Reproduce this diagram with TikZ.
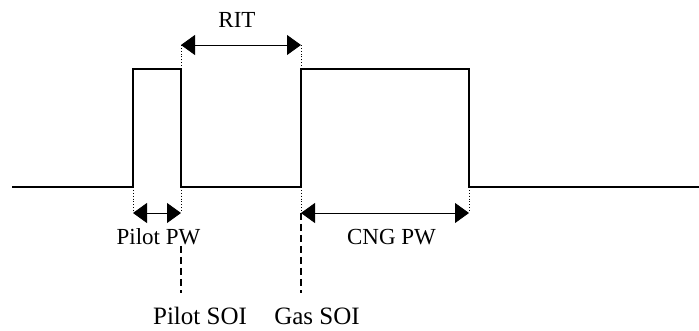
\documentclass[tikz,border=0pt]{standalone}
\usepackage{fontspec}
\setmainfont{Liberation Serif}
\usetikzlibrary{arrows.meta}
\begin{document}
\begin{tikzpicture}[x=1pt,y=-1pt,
  signal/.style={line width=1.6pt},
  dim/.style={line width=0.9pt,{Triangle[length=14pt,width=20pt]}-{Triangle[length=14pt,width=20pt]}},
  ext/.style={line width=0.9pt,dotted},
  marker/.style={line width=1.3pt,dash pattern=on 7pt off 4pt},
  lbl/.style={anchor=base,inner sep=0pt,font=\fontsize{23}{27}\selectfont},
  biglbl/.style={anchor=base,inner sep=0pt,font=\fontsize{25}{29}\selectfont}]
\useasboundingbox (0,0) rectangle (699,331);
% waveform corners
\coordinate (s0) at (12,187);
\coordinate (p1) at (133,187);
\coordinate (p1t) at (133,69);
\coordinate (p2t) at (181,69);
\coordinate (p2) at (181,187);
\coordinate (g1) at (301,187);
\coordinate (g1t) at (301,69);
\coordinate (g2t) at (469,69);
\coordinate (g2) at (469,187);
\coordinate (s1) at (699,187);
\draw[signal] (s0) -- (p1) -- (p1t) -- (p2t) -- (p2) -- (g1) -- (g1t) -- (g2t) -- (g2) -- (s1);
% RIT
\coordinate (r1) at (181,45);
\coordinate (r2) at (301,45);
\draw[ext] (p2t) -- (r1);
\draw[ext] (g1t) -- (r2);
\draw[dim] (r1) -- (r2);
\node[lbl] (rit) at (237,28) {RIT};
% Pilot PW
\coordinate (a1) at (133,213);
\coordinate (a2) at (181,213);
\draw[ext] (p1) -- (a1);
\draw[ext] (p2) -- (a2);
\draw[dim] (a1) -- (a2);
\node[lbl] (ppw) at (158.5,245) {Pilot PW};
% CNG PW
\coordinate (c1) at (301,213);
\coordinate (c2) at (469,213);
\draw[ext] (g1) -- (c1);
\draw[ext] (g2) -- (c2);
\draw[dim] (c1) -- (c2);
\node[lbl] (cpw) at (391.5,244) {CNG PW};
% SOI markers
\node[biglbl] (psoi) at (200,324) {Pilot SOI};
\node[biglbl] (gsoi) at (317,324) {Gas SOI};
\coordinate (m1a) at (181,246);
\coordinate (m1b) at (181,293);
\coordinate (m2b) at (301,293);
\draw[marker] (m1a) -- (m1b);
\draw[marker] (c1) -- (m2b);
\end{tikzpicture}
\end{document}
